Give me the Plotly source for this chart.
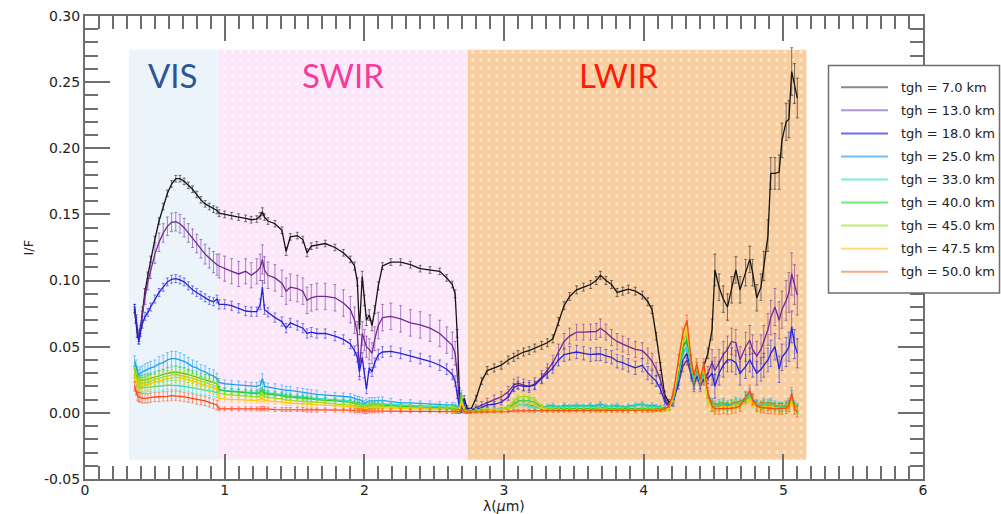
import plotly.graph_objects as go

# Wavelength samples (micrometres): visible channels, then infrared channels
wavelength = [
    0.355, 0.365, 0.375, 0.385, 0.395, 0.41, 0.43, 0.45, 0.47, 0.50,
    0.53, 0.56, 0.59, 0.62, 0.65, 0.68, 0.71, 0.74, 0.77, 0.80,
    0.83, 0.86, 0.89, 0.92, 0.945,
    0.96, 1.00, 1.05, 1.10, 1.15, 1.19, 1.23, 1.255, 1.27, 1.285,
    1.31, 1.36, 1.41, 1.44, 1.47, 1.52, 1.56, 1.59, 1.62, 1.66,
    1.72, 1.79, 1.85, 1.90, 1.93, 1.95, 1.965, 1.985, 2.00, 2.015,
    2.035, 2.055, 2.075, 2.10, 2.13, 2.19, 2.26, 2.33, 2.40, 2.47,
    2.54, 2.59, 2.63, 2.65, 2.665, 2.68, 2.695, 2.715, 2.735,
    2.76, 2.80, 2.84, 2.88, 2.93, 2.98, 3.03, 3.07, 3.10, 3.14,
    3.18, 3.22, 3.27, 3.31, 3.35, 3.39, 3.43, 3.47, 3.52, 3.57,
    3.62, 3.66, 3.69, 3.73, 3.77, 3.81, 3.85, 3.89, 3.94, 3.99,
    4.03, 4.06, 4.09, 4.12, 4.15, 4.18, 4.21, 4.25, 4.28, 4.31,
    4.34, 4.36, 4.38, 4.405, 4.43, 4.46, 4.49, 4.51, 4.54, 4.57,
    4.60, 4.63, 4.66, 4.69, 4.73, 4.76, 4.78, 4.81, 4.84, 4.86,
    4.89, 4.91, 4.94, 4.97, 4.99, 5.02, 5.04, 5.06, 5.08, 5.10,
]

# I/F spectra per tangent height, in units of 1e-3
if_07 = [
    78, 70, 59, 56, 62, 75, 92, 104, 116, 131, 145, 156, 166, 173, 177, 177, 175, 172, 169, 165,
    161, 158, 156, 154, 153,
    151, 150, 149, 148, 147, 146, 146.5, 149, 152, 148, 145, 143, 138, 122, 133, 134, 131, 121, 126, 127,
    128, 125, 121, 116, 111, 99, 63, 103, 85, 70, 74, 66, 78, 96, 111, 114, 114, 112, 109, 108,
    107, 102, 97, 90, 60, 17, 2, 11, 4,
    2, 11, 24, 32, 34, 36, 40, 42, 44, 46, 47, 49, 51, 53, 56, 69, 81, 88, 93, 95,
    97, 100, 104, 100, 97, 91, 92, 93.5, 92, 89, 84, 78, 58, 35, 14, 8, 10, 30, 50, 55,
    35, 25, 35, 25, 35, 45, 63, 108, 95, 86, 80, 93, 108, 93, 106, 116, 106, 87, 95, 111,
    134, 181, 181, 182, 206, 220, 222, 258, 249, 238,
]
if_13 = [
    79, 71, 60, 55, 62, 75, 88, 99, 108, 120, 129, 136, 141, 144, 144.5, 143, 140, 136, 132, 128,
    124, 120, 117, 114, 112,
    111, 109, 107, 105, 107, 104, 107, 110, 116, 108, 104, 102, 98, 92, 95, 94, 92, 85, 87, 88,
    88, 87, 83, 78, 70, 60, 33, 60, 55, 50, 48, 45, 56, 66, 72, 73, 71, 68, 66.5, 64,
    60, 55, 51, 45, 30, 8, 2, 6, 2,
    2, 4, 6, 8, 10, 12, 16, 21, 22.5, 21, 20, 22, 27, 32, 38, 46, 54, 58, 61, 61,
    61, 61.5, 64, 61, 57, 54, 52, 50, 48, 47, 43, 39, 33, 25, 12, 5, 8, 22, 35, 40,
    28, 20, 28, 20, 25, 30, 38, 32, 38, 44, 48, 54, 53, 40, 50, 55, 48, 43, 48, 54,
    63, 72, 80, 70, 78, 85, 91, 105, 97, 89,
]
if_18 = [
    80, 72, 60, 54, 60, 67, 73, 76, 80, 86, 91, 95, 99, 101, 101.5, 100.5, 99, 96, 93, 91,
    89, 87, 85, 84, 86,
    82, 82, 81, 79, 77, 76.5, 76.5, 82, 95, 78, 76, 72, 69, 64, 68, 66, 64, 60, 61, 60,
    60, 58, 55.5, 52, 47, 42, 31, 42, 30, 18, 34, 31, 38, 44, 46, 46.5, 45, 43, 41, 39,
    36, 33, 29, 24, 14, 5, 2, 8, 2,
    2, 3, 4, 6, 6.5, 8, 12, 19, 21, 20, 20, 21, 26, 30, 34, 40, 44, 45, 46, 45,
    44, 44.5, 44.5, 43, 42, 39, 38, 36, 34, 36, 30, 27, 24, 18, 9, 4, 7, 25, 40, 45,
    30, 22, 30, 22, 28, 26, 30, 20, 30, 36, 40, 40, 38, 30, 35, 40, 36, 30, 33, 36,
    40, 45, 50, 33, 42, 46, 50, 65, 52, 45,
]
if_25 = [
    39, 36, 31, 29, 30, 31, 32, 33, 34, 35, 37, 38, 40, 41, 41, 40, 39, 37, 35, 34,
    32, 31, 29, 28, 26,
    23, 22, 21.5, 21, 20.5, 20, 20, 21, 26, 20, 19.5, 19, 18, 17, 17, 16, 15.5, 15, 14.5, 14,
    13.5, 13, 12.5, 12, 11, 10, 10, 9, 7, 8, 9, 9, 9, 9.5, 9.5, 8.5, 7.5, 7.5, 7, 7,
    6.5, 6, 6, 5.5, 4, 3, 12, 4, 1,
    1, 2, 2, 2, 2.5, 3, 4, 6, 7, 7, 6, 5, 4, 5, 6, 4, 6, 5, 6, 5,
    6, 5, 7, 5, 5, 6, 4, 5, 6, 7, 5, 6, 5, 4, 3, 4, 10, 30, 45, 50,
    35, 25, 32, 24, 30, 14, 8, 6, 7, 8, 6, 7, 9, 8, 12, 15, 11, 7, 6, 8,
    7, 8, 6, 5, 5, 6, 8, 13, 6, 4,
]
if_33 = [
    30, 26, 21, 19, 19, 19, 19, 19.5, 19.5, 20, 20, 20.5, 21, 21, 21, 20.5, 20, 19.5, 19, 18,
    17.5, 17, 16.5, 16, 15,
    17, 17, 16.5, 16, 16, 15.5, 15.5, 16, 19, 15.5, 15, 14.5, 14, 13, 13, 12.5, 12, 11.5, 11, 11,
    10.5, 10, 9.5, 9, 8, 7, 7, 6, 5, 5.5, 6.5, 7, 7, 7, 7, 6.5, 6, 5.5, 5.5, 5,
    5, 4.5, 4.5, 4, 3, 2, 9, 3, 1,
    1, 1.5, 2, 2, 2, 2.5, 3, 5, 6, 6, 5, 4, 3.5, 4, 5, 4, 5, 4.5, 5, 4.5,
    5, 4.5, 6, 4.5, 4.5, 5, 4, 4.5, 5, 6, 4.5, 5, 4.5, 3.5, 3, 3.5, 9, 28, 44, 50,
    33, 24, 31, 23, 29, 12, 7, 5, 6, 7, 5, 6, 8, 7, 11, 13, 10, 6, 5, 7,
    6, 7, 5, 4.5, 4.5, 5, 7, 11, 5, 3.5,
]
if_40 = [
    32, 29, 25, 24, 24, 24.5, 25, 25.5, 26, 27, 28, 29, 30, 30.5, 31, 30.5, 30, 29, 28, 27,
    26, 25, 24, 23, 22,
    18, 16.5, 16, 15.5, 15, 14.5, 14.5, 15, 17, 14.5, 14, 13.5, 13, 12, 12, 11.5, 11, 10.5, 10, 10,
    9.5, 9, 8.5, 8, 7, 6, 5.5, 5, 4, 4.5, 5.5, 6, 6, 6, 6, 5.5, 5, 4.5, 4.5, 4,
    4, 3.5, 3.5, 3, 2.5, 2, 14, 3, 1,
    1, 1.5, 1.5, 2, 2, 2.5, 4, 7, 9, 9, 9, 8, 4, 3, 3.5, 3, 3.5, 3, 3.5, 3,
    3.5, 3, 4, 3.5, 3, 3.5, 3, 3.5, 3, 3.5, 3, 3, 3, 3.5, 3, 4, 10, 32, 48, 56,
    36, 26, 33, 25, 31, 10, 5, 4, 5, 6, 5, 6, 7, 6, 10, 12, 9, 5, 4.5, 6,
    5, 6, 4.5, 4, 4, 4.5, 6, 10, 4.5, 3,
]
if_45 = [
    30, 27, 23, 22, 22, 22.5, 23, 23.5, 24, 25, 26, 27, 28, 28.5, 29, 28.5, 28, 27, 26, 25,
    24, 23, 22, 21, 20,
    15, 14, 13.5, 13, 12.5, 12, 12, 12.5, 14, 12, 11.5, 11, 10.5, 9.5, 9.5, 9, 8.5, 8, 8, 8,
    7.5, 7, 6.5, 6, 5.5, 5, 4.5, 4, 3.5, 4, 4.5, 5, 5, 5, 5, 4.5, 4, 4, 3.5, 3.5,
    3, 3, 3, 2.5, 2, 1.5, 10, 2.5, 1,
    1, 1.5, 1.5, 2, 2, 2.5, 4.5, 9, 12, 12.5, 12, 10, 5, 3, 2.5, 2.5, 2.5, 2.5, 2.5, 2.5,
    2.5, 2.5, 2.5, 2.5, 2.5, 2.5, 2.5, 2.5, 2.5, 2.5, 2.5, 2.5, 2.5, 2.5, 2.5, 3.5, 12, 35, 53, 60,
    38, 27, 35, 26, 33, 9, 4.5, 3.5, 4.5, 5.5, 4.5, 5.5, 6.5, 5.5, 9, 11, 8, 4.5, 4, 5.5,
    4.5, 5.5, 4, 3.5, 3.5, 4, 5.5, 9, 4, 2.5,
]
if_475 = [
    28, 25, 21, 20, 20, 20.5, 21, 21.5, 22, 23, 24, 25, 26, 26.5, 27, 26.5, 26, 25, 24, 23,
    22, 21, 20, 19, 18,
    11, 10.5, 10, 10, 9.5, 9.5, 9.5, 10, 11, 9.5, 9, 8.5, 8, 7.5, 7.5, 7, 7, 6.5, 6.5, 6,
    6, 5.5, 5, 5, 4.5, 4, 3.5, 3, 3, 3, 3.5, 4, 4, 4, 4, 3.5, 3.5, 3, 3, 3,
    2.5, 2.5, 2.5, 2, 1.5, 1.5, 8, 2, 1,
    1, 1, 1.5, 1.5, 2, 2, 3, 5, 7, 7, 7, 6, 3.5, 2.5, 2, 2, 2, 2, 2, 2,
    2, 2, 2, 2, 2, 2, 2, 2, 2, 2, 2, 2, 2, 2, 2, 3, 11, 36, 55, 64,
    39, 28, 36, 27, 34, 8, 4, 3, 4, 5, 4, 5, 6, 5, 8.5, 10, 7, 4, 3.5, 5,
    4, 5, 3.5, 3, 3, 3.5, 5, 8, 3.5, 2,
]
if_50 = [
    20, 17, 13, 12, 11.5, 11, 11, 11, 11.5, 12, 12, 12.5, 12.5, 13, 13, 12.5, 12, 11.5, 11, 10,
    9.5, 9, 8, 7, 6,
    3, 3, 3, 3, 3, 3, 3, 3, 3.5, 3, 3, 2.5, 2.5, 2.5, 2.5, 2.5, 2.5, 2, 2, 2,
    2, 2, 2, 2, 1.5, 1.5, 1.5, 1.5, 1, 1, 1.5, 1.5, 1.5, 1.5, 1.5, 1.5, 1.5, 1.5, 1.5, 1.5,
    1.5, 1, 1, 1, 1, 1, 3, 1, 0.5,
    0.5, 1, 1, 1, 1, 1, 1, 1.5, 1.5, 1.5, 1.5, 1.5, 1.5, 1.5, 1.5, 1.5, 1.5, 1.5, 1.5, 1.5,
    1.5, 1.5, 1.5, 1.5, 1.5, 1.5, 1.5, 1.5, 1.5, 1.5, 1.5, 1.5, 2, 2, 3, 5, 14, 40, 60, 70,
    40, 28, 37, 25, 37, 15, 5, 3, 3, 3.5, 3, 3.5, 4, 5, 12, 17, 10, 5, 4, 4,
    3.5, 3.5, 3, 3, 3, 3.5, 5, 15, 3, 1,
]

# 1-sigma uncertainties, same units
err_07 = [
    2, 2, 2, 2, 2, 2, 2, 2.5, 2.5, 2.5, 2.5, 2.5, 2.5, 2.5, 2.5, 2.5, 2.5, 2.5, 2.5, 2.5,
    2.5, 2.5, 2.5, 2.5, 2.5,
    2.5, 2.5, 2.5, 2.5, 2.5, 2.5, 2.5, 2.5, 3, 2.5, 2.5, 2.5, 2.5, 3, 2.5, 2.5, 2.5, 3, 2.5, 2.5,
    2.5, 2.5, 2.5, 2.5, 3, 3, 4, 4, 4, 4, 4, 4, 3, 3, 2.5, 2.5, 2.5, 2.5, 2.5, 2.5,
    2.5, 2.5, 2.5, 3, 3, 2, 1.5, 2, 1.5,
    1.5, 2, 2.5, 3, 3, 3, 3, 3, 3, 3, 3, 3, 3, 3, 3, 3, 3, 3, 3, 3,
    3, 3, 3, 3, 3, 3, 3, 3, 3, 3, 3, 3, 3, 3, 2.5, 2, 2.5, 3, 3, 3,
    3, 3, 3, 3, 3, 4, 8, 12, 10, 10, 10, 10, 10, 10, 10, 10, 10, 10, 10, 11,
    12, 12, 12, 13, 13, 14, 14, 18, 15, 15,
]
err_13 = [
    3, 3, 3, 3, 4, 5, 6, 6, 6.5, 7, 7, 7, 7, 7, 7, 7, 7, 7, 7, 7,
    7, 7.5, 7.5, 8, 8,
    9, 9.5, 9.5, 9.5, 9.5, 9.5, 9.5, 10, 11, 10, 10, 10, 10, 10, 10, 10, 10, 10, 10, 10,
    10, 10, 10, 10, 10, 9, 8, 9, 8, 8, 8, 8, 9, 10, 10, 10, 10, 10, 10, 10,
    10, 10, 10, 9, 7, 3, 2, 3, 2,
    1.5, 2, 2.5, 3, 3.5, 4, 4, 4.5, 4.5, 4.5, 4.5, 4.5, 5, 5, 5.5, 6, 6, 6, 6, 6,
    6, 6, 7, 6, 6, 6, 6, 6, 6, 6, 6, 6, 5, 4, 3, 2, 2.5, 4, 4, 4,
    4, 4, 4, 4, 4, 5, 10, 10, 10, 10, 10, 10, 10, 10, 11, 11, 11, 11, 11, 12,
    12, 13, 14, 14, 14, 15, 15, 16, 15, 15,
]
err_18 = [
    2, 2, 2, 2, 2.5, 3, 3, 3, 3, 3, 3, 3, 3, 3, 3, 3, 3, 3, 3, 3,
    3, 3, 3, 3, 3,
    3.5, 3.5, 3.5, 3.5, 3.5, 3.5, 3.5, 4, 5, 3.5, 3.5, 3.5, 3.5, 3.5, 3.5, 3.5, 3.5, 3.5, 3.5, 3.5,
    3.5, 3.5, 3.5, 3.5, 3.5, 3.5, 3.5, 3.5, 3.5, 3.5, 3.5, 3.5, 3.5, 4, 4, 4, 4, 4, 4, 4,
    4, 4, 4, 4, 3, 2, 1.5, 2, 1.5,
    1, 1.5, 2, 2, 2, 2, 2.5, 3, 3, 3, 3, 3, 3.5, 4, 4, 4.5, 5, 5, 5, 5,
    5, 5, 5, 5, 5, 5, 5, 5, 5, 5, 5, 5, 4, 3.5, 3, 2, 2, 4, 4, 4,
    4, 4, 4, 4, 4, 4, 9, 9, 9, 9, 9, 9, 9, 9, 9, 9, 9, 9, 9, 9,
    9, 10, 10, 10, 10, 11, 11, 12, 11, 11,
]
err_25 = [
    4, 4, 4, 4, 4.5, 4.5, 5, 5, 5, 5, 5.5, 5.5, 5.5, 5.5, 5.5, 5.5, 5, 5, 5, 5,
    4.5, 4.5, 4.5, 4.5, 4,
    3, 3, 3, 3, 3, 3, 3, 3, 3.5, 3, 3, 3, 3, 3, 3, 3, 3, 3, 3, 3,
    2.5, 2.5, 2.5, 2.5, 2.5, 2.5, 2.5, 2.5, 2.5, 2.5, 2.5, 2.5, 2.5, 2.5, 2.5, 2.5, 2.5, 2.5, 2, 2,
    2, 2, 2, 2, 2, 2, 3, 2, 1,
    1, 1, 1, 1, 1, 1, 1.5, 1.5, 1.5, 1.5, 1.5, 1.5, 1.5, 1.5, 1.5, 1.5, 1.5, 1.5, 1.5, 1.5,
    1.5, 1.5, 1.5, 1.5, 1.5, 1.5, 1.5, 1.5, 1.5, 1.5, 1.5, 1.5, 1.5, 1.5, 1.5, 1.5, 2, 3, 3, 3,
    3, 3, 3, 3, 3, 3, 3, 3, 3, 3, 3, 3, 3, 3, 3.5, 3.5, 3.5, 3, 3, 3,
    3, 3, 3, 3, 3, 3, 3, 4, 3, 3,
]
err_33 = [
    3.5, 3.5, 3.5, 3.5, 3.5, 3.5, 3.5, 3.5, 3.5, 3.5, 3.5, 3.5, 3.5, 3.5, 3.5, 3.5, 3.5, 3.5, 3.5, 3.5,
    3.5, 3.5, 3.5, 3.5, 3.5,
    2, 2, 2, 2, 2, 2, 2, 2, 2.5, 2, 2, 2, 2, 2, 2, 2, 2, 2, 2, 2,
    2, 2, 2, 2, 2, 2, 2, 2, 2, 2, 2, 2, 2, 2, 2, 2, 2, 2, 2, 2,
    2, 2, 2, 2, 2, 2, 2.5, 2, 1,
    1.5, 1.5, 1.5, 1.5, 1.5, 1.5, 1.5, 1.5, 1.5, 1.5, 1.5, 1.5, 1.5, 1.5, 1.5, 1.5, 1.5, 1.5, 1.5, 1.5,
    1.5, 1.5, 1.5, 1.5, 1.5, 1.5, 1.5, 1.5, 1.5, 1.5, 1.5, 1.5, 1.5, 1.5, 1.5, 1.5, 3, 3, 3, 3,
    3, 3, 3, 3, 3, 3, 3, 3, 3, 3, 3, 3, 3, 3, 3, 3, 3, 3, 3, 3,
    3, 3, 3, 3, 3, 3, 3, 3, 3, 3,
]
err_40 = [
    4, 4, 4, 4, 4, 4, 4, 4, 4, 4, 4, 4, 4, 4, 4, 4, 4, 4, 4, 4,
    4, 4, 4, 4, 4,
    2, 2, 2, 2, 2, 2, 2, 2, 2.5, 2, 2, 2, 2, 2, 2, 2, 2, 2, 2, 2,
    2, 2, 2, 2, 2, 2, 2, 2, 2, 2, 2, 2, 2, 2, 2, 2, 2, 2, 2, 2,
    2, 2, 2, 2, 2, 2, 3, 2, 1,
    1.5, 1.5, 1.5, 1.5, 1.5, 1.5, 1.5, 1.5, 1.5, 1.5, 1.5, 1.5, 1.5, 1.5, 1.5, 1.5, 1.5, 1.5, 1.5, 1.5,
    1.5, 1.5, 1.5, 1.5, 1.5, 1.5, 1.5, 1.5, 1.5, 1.5, 1.5, 1.5, 1.5, 1.5, 1.5, 1.5, 3, 3, 3, 3,
    3, 3, 3, 3, 3, 3, 3, 3, 3, 3, 3, 3, 3, 3, 3, 3, 3, 3, 3, 3,
    3, 3, 3, 3, 3, 3, 3, 3, 3, 3,
]
err_45 = [
    4, 4, 4, 4, 4, 4, 4, 4, 4, 4, 4, 4, 4, 4, 4, 4, 4, 4, 4, 4,
    4, 4, 4, 4, 4,
    2, 2, 2, 2, 2, 2, 2, 2, 2.5, 2, 2, 2, 2, 2, 2, 2, 2, 2, 2, 2,
    2, 2, 2, 2, 2, 2, 2, 2, 2, 2, 2, 2, 2, 2, 2, 2, 2, 2, 2, 2,
    2, 2, 2, 2, 2, 2, 3, 2, 1,
    1.5, 1.5, 1.5, 1.5, 1.5, 1.5, 1.5, 1.5, 1.5, 1.5, 1.5, 1.5, 1.5, 1.5, 1.5, 1.5, 1.5, 1.5, 1.5, 1.5,
    1.5, 1.5, 1.5, 1.5, 1.5, 1.5, 1.5, 1.5, 1.5, 1.5, 1.5, 1.5, 1.5, 1.5, 1.5, 1.5, 3, 3, 3, 3,
    3, 3, 3, 3, 3, 3, 3, 3, 3, 3, 3, 3, 3, 3, 3, 3, 3, 3, 3, 3,
    3, 3, 3, 3, 3, 3, 3, 3, 3, 3,
]
err_475 = [
    4.5, 4.5, 4.5, 4.5, 4.5, 4.5, 4.5, 4.5, 4.5, 4.5, 4.5, 4.5, 4.5, 4.5, 4.5, 4.5, 4.5, 4.5, 4.5, 4.5,
    4.5, 4.5, 4.5, 4.5, 4.5,
    2, 2, 2, 2, 2, 2, 2, 2, 2.5, 2, 2, 2, 2, 2, 2, 2, 2, 2, 2, 2,
    2, 2, 2, 2, 2, 2, 2, 2, 2, 2, 2, 2, 2, 2, 2, 2, 2, 2, 2, 2,
    2, 2, 2, 2, 2, 2, 3, 2, 1,
    1.5, 1.5, 1.5, 1.5, 1.5, 1.5, 1.5, 1.5, 1.5, 1.5, 1.5, 1.5, 1.5, 1.5, 1.5, 1.5, 1.5, 1.5, 1.5, 1.5,
    1.5, 1.5, 1.5, 1.5, 1.5, 1.5, 1.5, 1.5, 1.5, 1.5, 1.5, 1.5, 1.5, 1.5, 1.5, 1.5, 3, 3, 3, 3,
    3, 3, 3, 3, 3, 3, 3, 3, 3, 3, 3, 3, 3, 3, 3, 3, 3, 3, 3, 3,
    3, 3, 3, 3, 3, 3, 3, 3, 3, 3,
]
err_50 = [
    3.5, 3.5, 3.5, 3.5, 3.5, 3.5, 3.5, 3.5, 3.5, 3.5, 3.5, 3.5, 3.5, 3.5, 3.5, 3.5, 3.5, 3.5, 3.5, 3.5,
    3.5, 3.5, 3.5, 3.5, 3.5,
    1.5, 1.5, 1.5, 1.5, 1.5, 1.5, 1.5, 1.5, 1.5, 1.5, 1.5, 1.5, 1.5, 1.5, 1.5, 1.5, 1.5, 1.5, 1.5, 1.5,
    1.5, 1.5, 1.5, 1.5, 1.5, 1.5, 1.5, 1.5, 1.5, 1.5, 1.5, 1.5, 1.5, 1.5, 1.5, 1.5, 1.5, 1.5, 1.5, 1.5,
    1.5, 1.5, 1.5, 1.5, 1.5, 1.5, 2, 1.5, 1,
    1, 1, 1, 1, 1, 1, 1, 1, 1, 1, 1, 1, 1, 1, 1, 1, 1, 1, 1, 1,
    1, 1, 1, 1, 1, 1, 1, 1, 1, 1, 1, 1, 1, 1, 1, 1, 4, 4, 4, 4,
    4, 4, 4, 4, 4, 4, 4, 4, 4, 4, 4, 4, 4, 4, 4, 4, 4, 4, 4, 4,
    4, 4, 4, 4, 4, 4, 4, 4, 4, 4,
]

heights_km = ["7.0", "13.0", "18.0", "25.0", "33.0", "40.0", "45.0", "47.5", "50.0"]
spectra = [if_07, if_13, if_18, if_25, if_33, if_40, if_45, if_475, if_50]
uncertainties = [err_07, err_13, err_18, err_25, err_33, err_40, err_45, err_475, err_50]
UNIT = 1e-3

line_rgb = [
    (20, 20, 20), (112, 40, 150), (34, 34, 221), (30, 160, 240), (40, 225, 200),
    (40, 205, 40), (150, 225, 30), (255, 200, 0), (255, 70, 15),
]
legend_colors = [
    "#8a8a8a", "#b495d6", "#6b6bf2", "#6cc0f5", "#72f0da",
    "#72ec72", "#baf06c", "#ffdc70", "#ffa287",
]

# Spectral ranges shaded behind the curves
band_names = ["VIS", "SWIR", "LWIR"]
band_edges = [0.315, 0.953, 2.741, 5.165]
band_bottom, band_top = -0.0355, 0.2744
band_label_x = [0.63, 1.85, 3.82]
band_label_y = 0.2555
band_label_colors = ["#2f5597", "#f53c9b", "#ff1a0a"]
band_patterns = [
    dict(shape="+", bgcolor="#eef5fb", fgcolor="#c3d9ee", size=4, solidity=0.12),
    dict(shape="+", bgcolor="#fce6fa", fgcolor="#fff4fe", size=4, solidity=0.15),
    dict(shape="+", bgcolor="#f8cd9d", fgcolor="#fcdcb8", size=4, solidity=0.2),
]

x_ticks = [0, 1, 2, 3, 4, 5, 6]
x_ticklabels = ["0", "1", "2", "3", "4", "5", "6"]
y_ticks = [-0.05, 0.0, 0.05, 0.10, 0.15, 0.20, 0.25, 0.30]
y_ticklabels = ["-0.05", "0.00", "0.05", "0.10", "0.15", "0.20", "0.25", "0.30"]

fig = go.Figure()

for i, name in enumerate(band_names):
    x0, x1 = band_edges[i], band_edges[i + 1]
    fig.add_trace(go.Scatter(
        x=[x0, x1, x1, x0, x0],
        y=[band_bottom, band_bottom, band_top, band_top, band_bottom],
        mode="none", fill="toself", fillcolor=band_patterns[i]["bgcolor"],
        fillpattern=band_patterns[i], showlegend=False, hoverinfo="skip",
    ))
# white dot grid on the SWIR and LWIR bands
for i in (1, 2):
    x0, x1 = band_edges[i], band_edges[i + 1]
    fig.add_trace(go.Scatter(
        x=[x0, x1, x1, x0, x0],
        y=[band_bottom, band_bottom, band_top, band_top, band_bottom],
        mode="none", fill="toself", fillcolor="rgba(0,0,0,0)",
        fillpattern=dict(shape=".", bgcolor="rgba(0,0,0,0)", fgcolor="#ffffff",
                         size=8, solidity=0.15),
        showlegend=False, hoverinfo="skip",
    ))

for h, spec, err, rgb in zip(heights_km, spectra, uncertainties, line_rgb):
    assert len(spec) == len(wavelength) and len(err) == len(wavelength), h
    r, g, b = rgb
    fig.add_trace(go.Scatter(
        x=wavelength, y=[v * UNIT for v in spec], mode="lines",
        line=dict(color=f"rgb({r},{g},{b})", width=1.3),
        error_y=dict(type="data", array=[e * UNIT for e in err], visible=True,
                     color=f"rgba({r},{g},{b},0.55)", thickness=1, width=1.5),
        name=f"tgh = {h} km", showlegend=False,
    ))

for name, lx, col in zip(band_names, band_label_x, band_label_colors):
    fig.add_annotation(x=lx, y=band_label_y, xref="x", yref="y", text=name, showarrow=False,
                       font=dict(family="Lato", size=33, color=col))

# Legend box drawn in paper coordinates (plot area spans 838 x 463 px)
PW, PH, L0, B0 = 838.0, 463.0, 85.0, 479.0
def px_x(p):
    return (p - L0) / PW
def px_y(p):
    return (B0 - p) / PH

fig.add_shape(type="rect", xref="paper", yref="paper",
              x0=px_x(828.5), x1=px_x(999.5), y0=px_y(293), y1=px_y(65.5),
              line=dict(color="#6e6e6e", width=1.5), fillcolor="white", layer="above")
for k, (h, col) in enumerate(zip(heights_km, legend_colors)):
    yc = 87.3 + 23.05 * k
    fig.add_shape(type="line", xref="paper", yref="paper",
                  x0=px_x(841), x1=px_x(888), y0=px_y(yc), y1=px_y(yc),
                  line=dict(color=col, width=2), layer="above")
    fig.add_annotation(xref="paper", yref="paper", x=px_x(899), y=px_y(yc),
                       text=f"tgh = {h} km", showarrow=False, xanchor="left", yanchor="middle",
                       font=dict(family="DejaVu Sans", size=13, color="#222222"))

# Axis titles placed explicitly under / beside the tick labels
fig.add_annotation(xref="paper", yref="paper", x=0.5, y=px_y(506), text="λ(<i>μ</i>m)",
                   showarrow=False, xanchor="center", yanchor="middle",
                   font=dict(family="DejaVu Sans", size=14, color="#222222"))
fig.add_annotation(xref="paper", yref="paper", x=px_x(28), y=0.5, text="I/F", textangle=-90,
                   showarrow=False, xanchor="center", yanchor="middle",
                   font=dict(family="DejaVu Sans", size=13, color="#222222"))

axis_col = "#6e6e6e"
tick_font = dict(family="DejaVu Sans", size=14, color="#222222")
fig.update_xaxes(
    range=[0, 6], tickmode="array", tickvals=x_ticks, ticktext=x_ticklabels,
    ticks="inside", ticklen=25, tickwidth=1.5, tickcolor=axis_col,
    showline=True, linecolor=axis_col, linewidth=2, mirror="ticks",
    showgrid=False, zeroline=False, tickfont=tick_font, automargin=False,
    ticklabelstandoff=-3,
    minor=dict(tickmode="linear", tick0=0, dtick=0.1, ticks="inside", ticklen=13,
               tickwidth=1.5, tickcolor=axis_col, showgrid=False),
)
fig.update_yaxes(
    range=[-0.05, 0.30], tickmode="array", tickvals=y_ticks, ticktext=y_ticklabels,
    ticks="inside", ticklen=25, tickwidth=1.5, tickcolor=axis_col,
    showline=True, linecolor=axis_col, linewidth=2, mirror="ticks",
    showgrid=False, zeroline=False, tickfont=tick_font, automargin=False,
    minor=dict(tickmode="linear", tick0=0, dtick=0.01, ticks="inside", ticklen=13,
               tickwidth=1.5, tickcolor=axis_col, showgrid=False),
)
fig.update_layout(
    width=1001, height=514, margin=dict(l=85, r=78, t=16, b=35),
    paper_bgcolor="white", plot_bgcolor="white", showlegend=False,
)

fig.write_html("out.html")
